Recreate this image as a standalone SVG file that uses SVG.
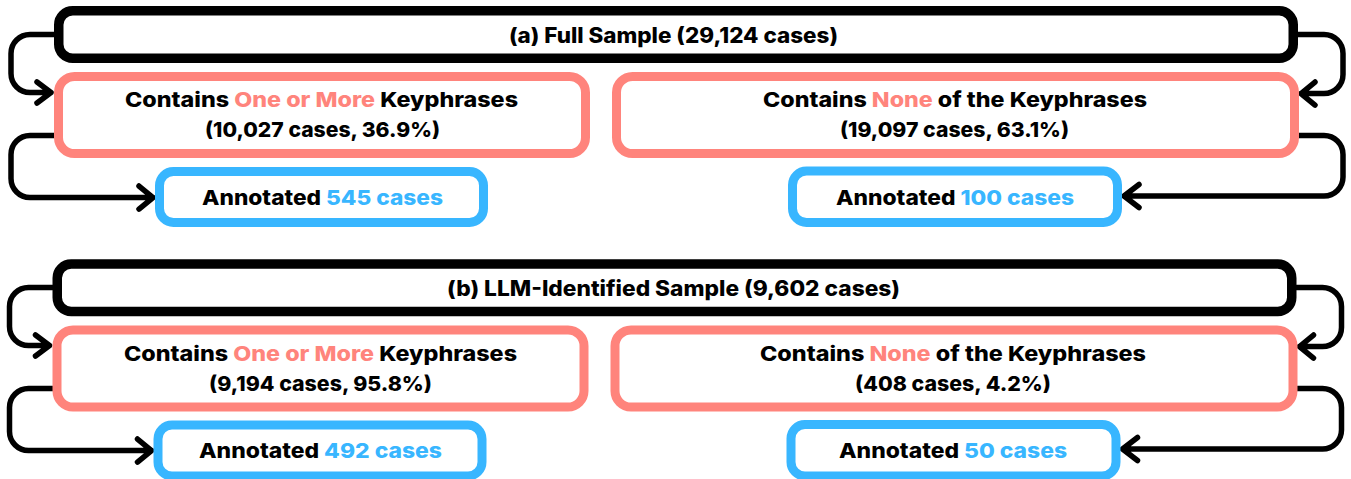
<svg xmlns="http://www.w3.org/2000/svg" width="1351" height="479" viewBox="0 0 1351 479">
<style>
.bg{fill:#ffffff}
.blk{fill:#ffffff;stroke:#000000;stroke-width:9.5}
.pnk{fill:#ffffff;stroke:#FF847C;stroke-width:9}
.blu{fill:#ffffff;stroke:#38B6FF;stroke-width:9}
.t{font-family:Inter,"Liberation Sans",sans-serif;font-weight:800;font-size:20.5px;fill:#000000;text-anchor:middle}
.tt{font-size:21px}
.p{fill:#FF847C}
.b{fill:#38B6FF}
.c{fill:none;stroke:#000000;stroke-width:5.5;stroke-linecap:round;stroke-linejoin:round}
</style>
<rect class="bg" x="0" y="0" width="1351" height="479"/>
<g id="connectors">
<path class="c" d="M 54 34.5 H 30 A 19 19 0 0 0 11 53.5 V 73.5 A 19 19 0 0 0 30 92.5 H 51 M 37 82 L 51 92.5 L 37 103"/>
<path class="c" d="M 54 135.5 H 30 A 19 19 0 0 0 11 154.5 V 178.5 A 19 19 0 0 0 30 197.5 H 153 M 139 186 L 153 197.5 L 139 209"/>
<path class="c" d="M 1298 34.5 H 1324 A 19 19 0 0 1 1343 53.5 V 74.5 A 19 19 0 0 1 1324 93.5 H 1301 M 1315 82 L 1301 93.5 L 1315 105"/>
<path class="c" d="M 1299 135.5 H 1324 A 19 19 0 0 1 1343 154.5 V 177 A 19 19 0 0 1 1324 196 H 1124 M 1139 184.5 L 1124 196 L 1139 207.5"/>
<path class="c" d="M 52.5 287.5 H 28.5 A 19 19 0 0 0 9.5 306.5 V 326.5 A 19 19 0 0 0 28.5 345.5 H 49.5 M 35.5 335 L 49.5 345.5 L 35.5 356"/>
<path class="c" d="M 52.5 388.5 H 28.5 A 19 19 0 0 0 9.5 407.5 V 431.5 A 19 19 0 0 0 28.5 450.5 H 151.5 M 137.5 439 L 151.5 450.5 L 137.5 462"/>
<path class="c" d="M 1296.5 287.5 H 1322.5 A 19 19 0 0 1 1341.5 306.5 V 327.5 A 19 19 0 0 1 1322.5 346.5 H 1299.5 M 1313.5 335 L 1299.5 346.5 L 1313.5 358"/>
<path class="c" d="M 1297.5 388.5 H 1322.5 A 19 19 0 0 1 1341.5 407.5 V 430 A 19 19 0 0 1 1322.5 449 H 1122.5 M 1137.5 437.5 L 1122.5 449 L 1137.5 460.5"/>
</g>
<g id="full-sample">
<rect class="blk" x="58.75" y="10.75" width="1234.5" height="47.5" rx="14"/>
<text class="t tt" x="673.5" y="42.5" textLength="329" lengthAdjust="spacingAndGlyphs">(a) Full Sample (29,124 cases)</text>
</g>
<g id="a-contains-one-or-more">
<rect class="pnk" x="58.5" y="76.5" width="527" height="77" rx="16"/>
<text class="t" x="321.5" y="106.7" textLength="393" lengthAdjust="spacingAndGlyphs">Contains <tspan class="p">One or More</tspan> Keyphrases</text>
<text class="t" x="322.5" y="136.7" textLength="235" lengthAdjust="spacingAndGlyphs">(10,027 cases, 36.9%)</text>
</g>
<g id="a-contains-none">
<rect class="pnk" x="616.5" y="76.5" width="678" height="77" rx="16"/>
<text class="t" x="955" y="106.7" textLength="384" lengthAdjust="spacingAndGlyphs">Contains <tspan class="p">None</tspan> of the Keyphrases</text>
<text class="t" x="954.5" y="136.7" textLength="229" lengthAdjust="spacingAndGlyphs">(19,097 cases, 63.1%)</text>
</g>
<g id="a-annotated-545">
<rect class="blu" x="159.5" y="171.5" width="324" height="51" rx="14"/>
<text class="t" x="322.5" y="204.5" textLength="241" lengthAdjust="spacingAndGlyphs">Annotated <tspan class="b">545 cases</tspan></text>
</g>
<g id="a-annotated-100">
<rect class="blu" x="792.5" y="171" width="325" height="51.5" rx="14"/>
<text class="t" x="955" y="204.5" textLength="238" lengthAdjust="spacingAndGlyphs">Annotated <tspan class="b">100 cases</tspan></text>
</g>
<g id="llm-sample">
<rect class="blk" x="57.25" y="264" width="1234.5" height="47.5" rx="14"/>
<text class="t tt" x="673.5" y="296" textLength="453" lengthAdjust="spacingAndGlyphs">(b) LLM-Identified Sample (9,602 cases)</text>
</g>
<g id="b-contains-one-or-more">
<rect class="pnk" x="57" y="330" width="527" height="77" rx="16"/>
<text class="t" x="320.5" y="360.7" textLength="393" lengthAdjust="spacingAndGlyphs">Contains <tspan class="p">One or More</tspan> Keyphrases</text>
<text class="t" x="320.5" y="391" textLength="223" lengthAdjust="spacingAndGlyphs">(9,194 cases, 95.8%)</text>
</g>
<g id="b-contains-none">
<rect class="pnk" x="615" y="330" width="678" height="77" rx="16"/>
<text class="t" x="953" y="360.7" textLength="386" lengthAdjust="spacingAndGlyphs">Contains <tspan class="p">None</tspan> of the Keyphrases</text>
<text class="t" x="953" y="391" textLength="196" lengthAdjust="spacingAndGlyphs">(408 cases, 4.2%)</text>
</g>
<g id="b-annotated-492">
<rect class="blu" x="158" y="425" width="324" height="51" rx="14"/>
<text class="t" x="320.5" y="457.5" textLength="243" lengthAdjust="spacingAndGlyphs">Annotated <tspan class="b">492 cases</tspan></text>
</g>
<g id="b-annotated-50">
<rect class="blu" x="791" y="424.5" width="325" height="51.5" rx="14"/>
<text class="t" x="953" y="457.5" textLength="228" lengthAdjust="spacingAndGlyphs">Annotated <tspan class="b">50 cases</tspan></text>
</g>
</svg>
